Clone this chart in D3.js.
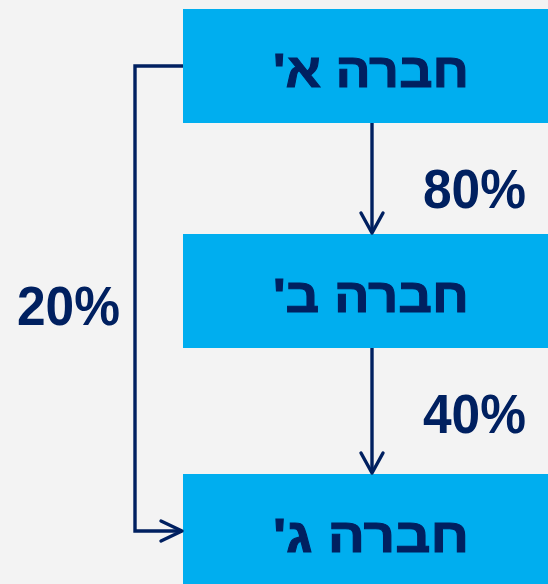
<!DOCTYPE html>
<html>
<head>
<meta charset="utf-8">
<script src="https://cdn.jsdelivr.net/npm/d3@7"></script>
<style>
  body { margin: 0; background: #f3f3f3; }
  svg { display: block; }
</style>
</head>
<body>
<div id="chart"></div>
<script>
var width = 548, height = 584;

// companies, top to bottom
var companies = ["חברה א'", "חברה ב'", "חברה ג'"];
// holdings between companies
var links = [
  {from: 0, to: 1, pct: "80%"},
  {from: 1, to: 2, pct: "40%"},
  {from: 0, to: 2, pct: "20%"}
];

var navy = "#002060",
    blue = "#00aeef";

// box layout
var boxX = 183, boxW = 380, boxH = 114,
    boxTop = d3.scaleOrdinal().domain(companies).range([9, 234, 474]);

var svg = d3.select("#chart").append("svg")
    .attr("width", width)
    .attr("height", height);

svg.append("rect")
    .attr("width", width).attr("height", height)
    .attr("fill", "#f3f3f3");

var box = svg.selectAll("g.box")
    .data(companies)
  .enter().append("g")
    .attr("class", "box")
    .attr("transform", function(d) { return "translate(" + boxX + "," + boxTop(d) + ")"; });

box.append("rect")
    .attr("width", boxW)
    .attr("height", boxH)
    .attr("fill", blue);

box.append("text")
    .attr("x", 188)
    .attr("y", 78)
    .attr("direction", "rtl")
    .attr("text-anchor", "middle")
    .attr("fill", navy)
    .attr("textLength", 196)
    .attr("lengthAdjust", "spacingAndGlyphs")
    .style("font-family", "'Liberation Sans', Arial, sans-serif")
    .style("font-weight", "bold")
    .style("font-size", "48px")
    .style("stroke", navy)
    .style("stroke-width", 1)
    .text(function(d) { return d; });

var line = d3.line();
var arrowX = 372, bracketX = 135;

links.forEach(function(l) {
  var a = companies[l.from], b = companies[l.to], path, head, lx, ly;
  if (l.to - l.from === 1) {
    var y0 = boxTop(a) + boxH, y1 = boxTop(b) - 1;
    path = line([[arrowX, y0], [arrowX, y1]]);
    head = line([[arrowX - 11, y1 - 20], [arrowX, y1], [arrowX + 11, y1 - 20]]);
    lx = 526; ly = y0 + 84.5;
  } else {
    var ya = boxTop(a) + 57, yb = boxTop(b) + 57, tx = boxX - 1;
    path = line([[boxX, ya], [bracketX, ya], [bracketX, yb], [tx, yb]]);
    head = line([[tx - 21, yb - 10], [tx, yb], [tx - 21, yb + 10]]);
    lx = 120; ly = (ya + yb) / 2 + 26;
  }
  svg.append("path")
      .attr("d", path)
      .attr("fill", "none")
      .attr("stroke", navy)
      .attr("stroke-width", 3.4);
  svg.append("path")
      .attr("d", head)
      .attr("fill", "none")
      .attr("stroke", navy)
      .attr("stroke-width", 3.4)
      .attr("stroke-linecap", "round")
      .attr("stroke-linejoin", "round");
  svg.append("text")
      .attr("x", lx)
      .attr("y", ly)
      .attr("text-anchor", "end")
      .attr("fill", navy)
      .attr("textLength", 103)
      .attr("lengthAdjust", "spacingAndGlyphs")
      .style("font-family", "'Liberation Sans', Arial, sans-serif")
      .style("font-weight", "bold")
      .style("font-size", "55px")
      .text(l.pct);
});
</script>
</body>
</html>
